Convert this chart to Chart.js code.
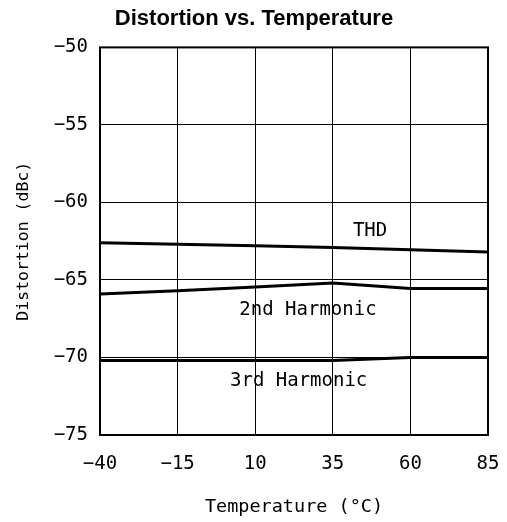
<!DOCTYPE html>
<html>
<head>
<meta charset="utf-8">
<script src="https://cdn.jsdelivr.net/npm/chart.js@4"></script>
<style>
  html, body { margin: 0; padding: 0; background: #fff; }
  #wrap { width: 507px; height: 522px; }
</style>
</head>
<body>
<div id="wrap"><canvas id="distChart" width="507" height="522"></canvas></div>
<script>
// temperatures (°C) and distortion (dBc)
const temps = [-40, -15, 10, 35, 60, 85];
const thd = [-62.6, -62.7, -62.8, -62.9, -63.05, -63.2];
const harm2 = [-65.9, -65.7, -65.45, -65.2, -65.55, -65.55];
const harm3 = [-70.2, -70.2, -70.2, -70.2, -70.0, -70.0];

const xTicks = [-40, -15, 10, 35, 60, 85];
const yTicks = [-75, -70, -65, -60, -55, -50];

// in-plot curve labels (data coordinates)
const labelText = ['THD', '2nd Harmonic', '3rd Harmonic'];
const labelX = [47, 27, 24];
const labelY = [-61.85, -66.95, -71.55];

const MONO = '"DejaVu Sans Mono", monospace';
const minus = v => String(v).replace('-', '\u2212');

const toPts = ys => temps.map((t, i) => ({ x: t, y: ys[i] }));
const lineSet = ys => ({
    data: toPts(ys),
    borderColor: '#000',
    borderWidth: 3,
    pointRadius: 0,
    tension: 0,
    fill: false
});

// frame around the plot + curve labels
const framePlugin = {
    id: 'frame',
    afterDraw(chart) {
        const { ctx, chartArea: a, scales } = chart;
        ctx.save();
        ctx.strokeStyle = '#000';
        ctx.lineWidth = 2;
        ctx.strokeRect(a.left, a.top, a.right - a.left, a.bottom - a.top);
        ctx.fillStyle = '#000';
        ctx.font = '19px ' + MONO;
        ctx.textAlign = 'center';
        ctx.textBaseline = 'middle';
        labelText.forEach((t, i) => {
            ctx.fillText(t, scales.x.getPixelForValue(labelX[i]), scales.y.getPixelForValue(labelY[i]));
        });
        ctx.restore();
    }
};

const ctx = document.getElementById('distChart').getContext('2d');
new Chart(ctx, {
    type: 'line',
    data: { datasets: [lineSet(thd), lineSet(harm2), lineSet(harm3)] },
    options: {
        responsive: false,
        animation: false,
        layout: { padding: { left: 20, right: 19 } },
        plugins: {
            legend: { display: false },
            tooltip: { enabled: false },
            title: {
                display: true,
                text: 'Distortion vs. Temperature',
                color: '#000',
                font: { family: '"Liberation Sans", Arial, sans-serif', size: 22, weight: 'bold' },
                padding: { top: 6, bottom: 15 }
            }
        },
        scales: {
            x: {
                type: 'linear',
                min: -40, max: 85,
                afterBuildTicks: s => { s.ticks = xTicks.map(v => ({ value: v })); },
                afterFit: s => { s.height = 87; s.paddingLeft = 0; s.paddingRight = 0; },
                grid: { color: '#000', lineWidth: 1, drawTicks: false },
                border: { display: false },
                ticks: {
                    color: '#000', padding: 18, maxRotation: 0,
                    font: { family: MONO, size: 19 },
                    callback: minus
                },
                title: {
                    display: true, text: 'Temperature (°C)', color: '#000',
                    font: { family: MONO, size: 18.5 },
                    padding: { top: 0, bottom: 4 }
                }
            },
            y: {
                min: -75, max: -50,
                afterBuildTicks: s => { s.ticks = yTicks.map(v => ({ value: v })); },
                afterFit: s => { s.width = 80; },
                grid: { color: '#000', lineWidth: 1, drawTicks: false },
                border: { display: false },
                ticks: {
                    color: '#000', padding: 12,
                    font: { family: MONO, size: 19 },
                    callback: minus
                },
                title: {
                    display: true, text: 'Distortion (dBc)', color: '#000',
                    font: { family: MONO, size: 16.5 },
                    padding: { top: -6, bottom: 0 }
                }
            }
        }
    },
    plugins: [framePlugin]
});
</script>
</body>
</html>
